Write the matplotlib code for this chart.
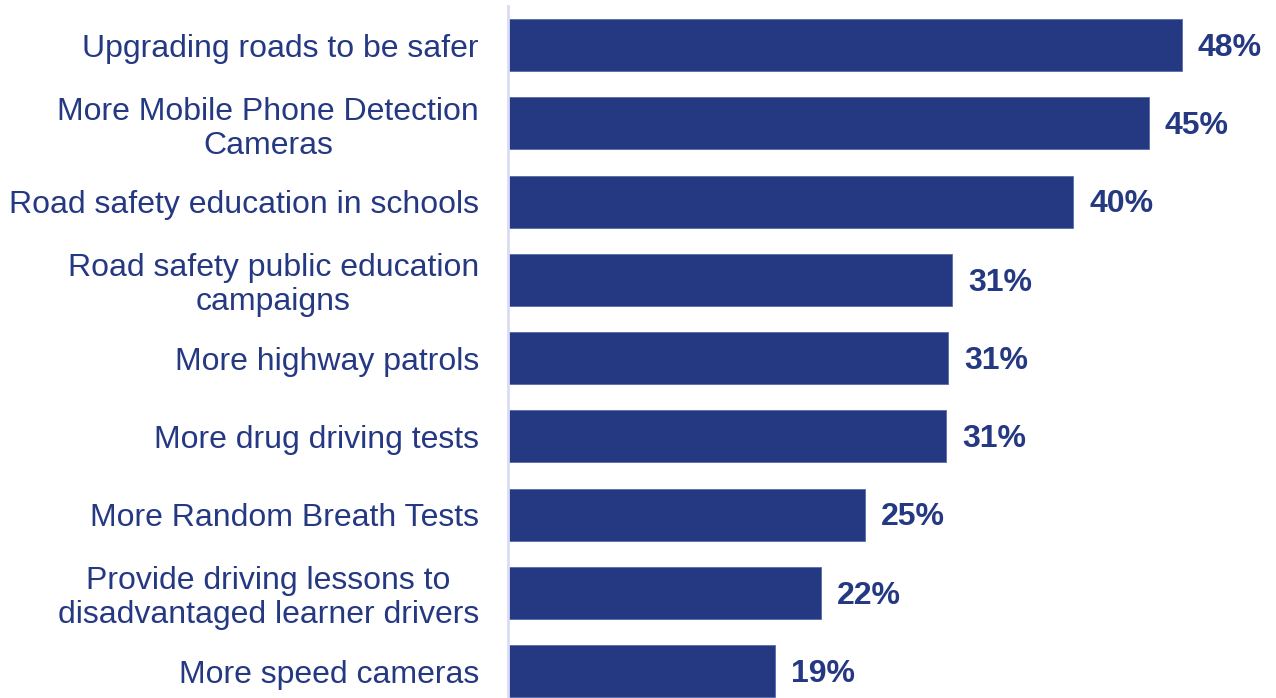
import matplotlib.pyplot as plt

# categories top to bottom, labels as printed
categories = [
    "Upgrading roads to be safer",
    "More Mobile Phone Detection\nCameras",
    "Road safety education in schools",
    "Road safety public education\ncampaigns",
    "More highway patrols",
    "More drug driving tests",
    "More Random Breath Tests",
    "Provide driving lessons to\ndisadvantaged learner drivers",
    "More speed cameras",
]
values = [48.0, 45.65, 40.25, 31.65, 31.35, 31.2, 25.45, 22.3, 19.0]
value_labels = ["48%", "45%", "40%", "31%", "31%", "31%", "25%", "22%", "19%"]

navy = "#253882"

plt.rcParams['font.family'] = ['Liberation Sans', 'DejaVu Sans']

fig = plt.figure(figsize=(12.76, 6.98), dpi=100)
W, H = 1276, 698
ax = fig.add_axes([508 / W, 0, (1210 - 508) / W, (698 - 6) / H])

pos = list(range(len(categories)))
ax.barh(pos, values, height=0.665, color=navy, edgecolor="#5a6aa8", linewidth=0.6)

for p, v, lab in zip(pos, values, value_labels):
    ax.annotate(lab, (v, p), xytext=(11.5, -2), textcoords="offset points",
                va="center", ha="left", fontsize=23, fontweight="bold", color=navy)

ax.set_xlim(0, 50)
ax.set_ylim(8.345, -0.5)
ax.set_yticks(pos)
ax.set_yticklabels(categories, fontsize=23, color=navy, multialignment="center",
                   linespacing=1.17)
ax.tick_params(axis="y", length=0, pad=21)
ax.set_xticks([])

for s in ["top", "right", "bottom"]:
    ax.spines[s].set_visible(False)
ax.spines["left"].set_color("#d9dcf4")
ax.spines["left"].set_linewidth(2)

fig.savefig("out.png", dpi=100)
